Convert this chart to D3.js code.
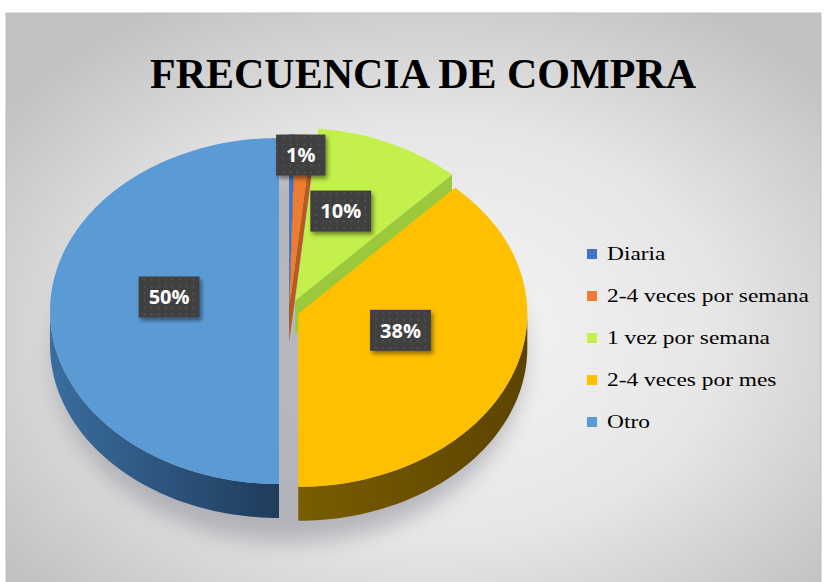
<!DOCTYPE html>
<html lang="en">
<head>
<meta charset="UTF-8">
<title>Frecuencia de compra</title>
<script src="https://d3js.org/d3.v7.min.js"></script>
<style>
  body { margin: 0; background: #fff; }
  svg { display: block; }
</style>
</head>
<body>
<svg id="chart"></svg>
<script>
// data
const categories = ["Diaria", "2-4 veces por semana", "1 vez por semana", "2-4 veces por mes", "Otro"];
const values = [0.4, 1.2, 10.4, 38, 50];
const title = "FRECUENCIA DE COMPRA";

// styles
const topColors = ["#4472C4", "#ED7D31", "#C3F04B", "#FFC000", "#5B9BD5"];
const sideColors = [["#30539a", "#243f78"], ["#b85a1c", "#8f4512"], ["#9cc83c", "#86ad30"], ["#7a5c00", "#5c4400"], ["#3a6d9e", "#1f3c5c"]];
const explode = [5, 5, 15, 10, 10];

const W = 825, H = 582;
const cx = 289, cy = 311, rx = 229, ry = 173, depth = 34;

const svg = d3.select("#chart").attr("width", W).attr("height", H);
const defs = svg.append("defs");

const bg = defs.append("radialGradient").attr("id", "bg")
  .attr("cx", "52%").attr("cy", "55%").attr("r", "65%");
bg.append("stop").attr("offset", "0%").attr("stop-color", "#f6f6f6");
bg.append("stop").attr("offset", "55%").attr("stop-color", "#e6e6e6");
bg.append("stop").attr("offset", "100%").attr("stop-color", "#c2c2c2");

defs.append("filter").attr("id", "blur").attr("x", "-30%").attr("y", "-30%").attr("width", "160%").attr("height", "160%")
  .append("feGaussianBlur").attr("stdDeviation", 11);

const ds = defs.append("filter").attr("id", "lblshadow").attr("x", "-30%").attr("y", "-30%").attr("width", "160%").attr("height", "160%");
ds.append("feDropShadow").attr("dx", 2).attr("dy", 3).attr("stdDeviation", 2)
  .attr("flood-color", "#000").attr("flood-opacity", 0.45);

const pat = defs.append("pattern").attr("id", "dots").attr("width", 7).attr("height", 7)
  .attr("patternUnits", "userSpaceOnUse");
pat.append("rect").attr("width", 7).attr("height", 7).attr("fill", "#404040");
pat.append("circle").attr("cx", 3.5).attr("cy", 3.5).attr("r", 0.9).attr("fill", "#575757");

sideColors.forEach((c, i) => {
  const g = defs.append("linearGradient").attr("id", "side" + i)
    .attr("x1", "0%").attr("x2", "100%").attr("y1", "0%").attr("y2", "0%");
  g.append("stop").attr("offset", "0%").attr("stop-color", c[0]);
  g.append("stop").attr("offset", "100%").attr("stop-color", c[1]);
});

// chart area
svg.append("rect").attr("x", 6).attr("y", 13).attr("width", 815).attr("height", H)
  .attr("fill", "url(#bg)").attr("stroke", "#bdbdbd").attr("stroke-width", 1);

svg.append("text")
  .attr("x", 423).attr("y", 88)
  .attr("text-anchor", "middle")
  .attr("font-family", "'Liberation Serif', 'Times New Roman', serif")
  .attr("font-weight", "bold")
  .attr("font-size", 42)
  .attr("fill", "#000")
  .text(title);

const pie = d3.pie().sort(null).value(d => d)(values);
const arcs = pie.map((p, i) => {
  const mid = (p.startAngle + p.endAngle) / 2;
  const e = explode[i];
  return {
    i, p, mid,
    ox: cx + e * Math.sin(mid),
    oy: cy - e * Math.cos(mid) * ry / rx
  };
});

// shadow under the pie
svg.append("ellipse")
  .attr("cx", cx).attr("cy", cy + depth + 12)
  .attr("rx", rx + 6).attr("ry", ry + 12)
  .attr("fill", "#8a8a96").attr("opacity", 0.55)
  .attr("filter", "url(#blur)");

const pt = (a, ox, oy, dz) => [ox + rx * Math.sin(a), oy - ry * Math.cos(a) + dz];

function outerWall(a0, a1, ox, oy) {
  const s = Math.max(a0, Math.PI / 2), e = Math.min(a1, Math.PI * 3 / 2);
  if (e <= s) return null;
  const n = 60, pts = [];
  for (let k = 0; k <= n; k++) pts.push(pt(s + (e - s) * k / n, ox, oy, 0));
  for (let k = n; k >= 0; k--) pts.push(pt(s + (e - s) * k / n, ox, oy, depth));
  return "M" + pts.map(q => q.join(",")).join("L") + "Z";
}

function radialWall(a, ox, oy) {
  const p0 = [ox, oy], p1 = pt(a, ox, oy, 0), p2 = pt(a, ox, oy, depth), p3 = [ox, oy + depth];
  return "M" + [p0, p1, p2, p3].map(q => q.join(",")).join("L") + "Z";
}

const arcGen = d3.arc().innerRadius(0).outerRadius(rx);

const order = arcs.slice().sort((a, b) =>
  (a.oy - ry * Math.cos(a.mid) * 0.5) - (b.oy - ry * Math.cos(b.mid) * 0.5));

const pieG = svg.append("g");
order.forEach(d => {
  const g = pieG.append("g");
  const { startAngle: a0, endAngle: a1 } = d.p;
  if (Math.sin(a0) < -0.01) {
    g.append("path").attr("d", radialWall(a0, d.ox, d.oy)).attr("fill", sideColors[d.i][1]);
  }
  if (Math.sin(a1) > 0.01) {
    g.append("path").attr("d", radialWall(a1, d.ox, d.oy)).attr("fill", sideColors[d.i][0]);
  }
  const w = outerWall(a0, a1, d.ox, d.oy);
  if (w) g.append("path").attr("d", w).attr("fill", `url(#side${d.i})`);
  g.append("path")
    .attr("transform", `translate(${d.ox},${d.oy}) scale(1,${ry / rx})`)
    .attr("d", arcGen(d.p))
    .attr("fill", topColors[d.i]);
});

// data labels
const lblG = svg.append("g");
arcs.forEach(d => {
  const v = values[d.i];
  if (Math.round(v) < 1) return;
  const f = v < 5 ? 0.8 : 0.48;
  const x = d.ox + f * rx * Math.sin(d.mid);
  const y = d.oy - f * ry * Math.cos(d.mid) - 14;
  const g = lblG.append("g").attr("transform", `translate(${x},${y})`);
  const r = g.append("rect").attr("fill", "url(#dots)").attr("filter", "url(#lblshadow)");
  const t = g.append("text")
    .attr("text-anchor", "middle").attr("dy", "0.36em")
    .attr("font-family", "'Open Sans', Lato, sans-serif")
    .attr("font-weight", "bold").attr("font-size", 20)
    .attr("fill", "#fff")
    .text(Math.round(v) + "%");
  const tw = t.node().getComputedTextLength();
  r.attr("x", -tw / 2 - 10).attr("y", -20.5).attr("width", tw + 20).attr("height", 41);
});

// legend
const legend = svg.append("g");
categories.forEach((c, i) => {
  const y = 260 + i * 42;
  legend.append("rect").attr("x", 587).attr("y", y - 11).attr("width", 10).attr("height", 10)
    .attr("fill", topColors[i]);
  legend.append("text")
    .attr("transform", `translate(607,${y}) scale(1.3,1)`)
    .attr("font-family", "'Liberation Serif', 'Times New Roman', serif")
    .attr("font-size", 18)
    .attr("fill", "#000")
    .text(c);
});
</script>
</body>
</html>
